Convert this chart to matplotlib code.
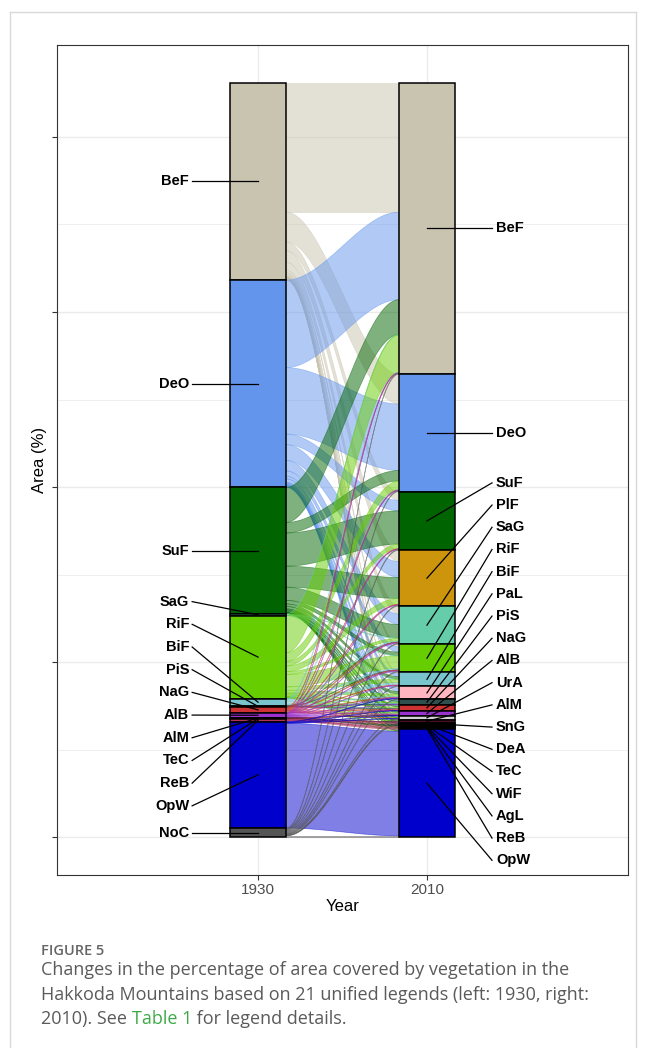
import numpy as np
import matplotlib.pyplot as plt
from matplotlib.patches import Rectangle, Polygon
from matplotlib.lines import Line2D

years = ["1930", "2010"]

# stacking order of the strata, top to bottom
classes_1930 = ["BeF", "DeO", "SuF", "SaG", "RiF", "BiF", "PiS", "NaG",
                "AlB", "AlM", "TeC", "ReB", "OpW", "NoC"]
classes_2010 = ["BeF", "DeO", "SuF", "PlF", "SaG", "RiF", "BiF", "PaL", "PiS", "NaG",
                "AlB", "UrA", "AlM", "SnG", "DeA", "TeC", "WiF", "AgL", "ReB", "OpW"]

# area (%) moving from one 1930 class to each 2010 class (columns = classes_2010)
from_BeF = [18.48, 4.25, 1.25, 1.63, 1.13, 0.38, 0.25, 0.25, 0.10, 0.05,
            0, 0.08, 0.05, 0.03, 0.03, 0.03, 0.05, 0.03, 0.03, 0.08]
from_DeO = [12.5, 9.5, 1.5, 2.25, 1.5, 0.75, 0.38, 0.5, 0.13, 0.13,
            0.08, 0.1, 0.05, 0.03, 0.03, 0.03, 0.03, 0.03, 0, 0.08]
from_SuF = [5.0, 1.5, 4.75, 3.0, 1.9, 0.5, 0.35, 0.35, 0.15, 0.15,
            0.15, 0.05, 0.08, 0.03, 0, 0.03, 0, 0.03, 0, 0.05]
from_SaG = [0.05, 0, 0, 0, 0.08, 0.05, 0.03, 0, 0.03, 0,
            0, 0, 0, 0, 0, 0, 0, 0, 0, 0]
from_RiF = [5.3, 1.23, 0.65, 0.83, 0.38, 1.78, 0.5, 0.35, 0.15, 0.18,
            0.18, 0.08, 0.1, 0, 0.03, 0, 0.03, 0, 0.03, 0.05]
from_BiF = [0.08, 0.05, 0, 0, 0.13, 0.2, 0.3, 0.1, 0.08, 0.05,
            0.03, 0, 0, 0, 0, 0, 0, 0, 0, 0]
from_PiS = [0, 0, 0, 0, 0.03, 0.03, 0, 0, 0.1, 0.03,
            0, 0, 0, 0, 0, 0, 0, 0, 0, 0]
from_NaG = [0.05, 0.05, 0.05, 0.08, 0.08, 0.1, 0.08, 0.08, 0, 0.15,
            0.05, 0.03, 0, 0, 0, 0, 0, 0, 0, 0]
from_AlB = [0.03, 0.05, 0.05, 0.05, 0.08, 0.08, 0.05, 0.08, 0.03, 0.05,
            0.15, 0, 0.03, 0, 0, 0, 0, 0, 0, 0]
from_AlM = [0, 0, 0, 0, 0, 0, 0, 0, 0, 0,
            0.03, 0, 0.05, 0, 0, 0, 0, 0, 0, 0]
from_TeC = [0, 0, 0, 0, 0, 0, 0, 0, 0, 0,
            0, 0, 0, 0, 0.03, 0.05, 0, 0, 0, 0]
from_ReB = [0, 0, 0, 0, 0, 0, 0, 0, 0, 0.03,
            0, 0, 0.08, 0.03, 0, 0, 0.03, 0.05, 0.15, 0]
from_OpW = [0, 0, 0, 0, 0, 0, 0, 0.08, 0, 0.05,
            0.05, 0.08, 0, 0, 0, 0, 0, 0, 0, 14.95]
from_NoC = [0.13, 0.13, 0.13, 0.13, 0.13, 0.13, 0.08, 0.08, 0, 0,
            0, 0.1, 0, 0.05, 0.03, 0, 0, 0, 0, 0.2]

palette = {
    "BeF": "#C9C4AF", "DeO": "#6495ED", "SuF": "#006400", "PlF": "#CD950C",
    "SaG": "#66CDAA", "RiF": "#66CD00", "BiF": "#7AC5CD", "PaL": "#FFB6C1",
    "PiS": "#2F4F4F", "NaG": "#CD3333", "AlB": "#9A32CD", "UrA": "#D3D3D3",
    "AlM": "#4A1020", "SnG": "#FFFFFF", "DeA": "#8B4513", "TeC": "#1A1A1A",
    "WiF": "#228B22", "AgL": "#FFD700", "ReB": "#B03060", "OpW": "#0000CD",
    "NoC": "#555555",
}

flows = np.array([from_BeF, from_DeO, from_SuF, from_SaG, from_RiF, from_BiF, from_PiS,
                  from_NaG, from_AlB, from_AlM, from_TeC, from_ReB, from_OpW, from_NoC])
tot_1930 = flows.sum(axis=1)
tot_2010 = flows.sum(axis=0)
total = tot_1930.sum()
top_1930 = total - np.concatenate([[0], np.cumsum(tot_1930)[:-1]])
top_2010 = total - np.concatenate([[0], np.cumsum(tot_2010)[:-1]])

fig = plt.figure(figsize=(6.46, 10.48), dpi=100)
ax = fig.add_axes([57 / 646, 1 - 875 / 1048, 571 / 646, 830 / 1048])

w = 1 / 3
xa, xb = 1 + w / 2, 2 - w / 2
t = np.linspace(0, 1, 80)
sig = 3 * t ** 2 - 2 * t ** 3
xs = xa + (xb - xa) * t

# flows, coloured by the 1930 class
used_l = np.zeros(len(classes_1930))
used_r = np.zeros(len(classes_2010))
for i, src in enumerate(classes_1930):
    for j, dst in enumerate(classes_2010):
        v = flows[i, j]
        if v <= 0:
            continue
        l_top = top_1930[i] - used_l[i]
        r_top = top_2010[j] - used_r[j]
        used_l[i] += v
        used_r[j] += v
        upper = l_top + (r_top - l_top) * sig
        lower = (l_top - v) + ((r_top - v) - (l_top - v)) * sig
        verts = np.vstack([np.column_stack([xs, upper]),
                           np.column_stack([xs[::-1], lower[::-1]])])
        ax.add_patch(Polygon(verts, closed=True, facecolor=palette[src], edgecolor=palette[src],
                             lw=0.5, alpha=0.5, zorder=1))

# strata
for x, names, tops, tots in [(1, classes_1930, top_1930, tot_1930),
                             (2, classes_2010, top_2010, tot_2010)]:
    for name, top, h in zip(names, tops, tots):
        ax.add_patch(Rectangle((x - w / 2, top - h), w, h, facecolor=palette[name],
                               edgecolor="black", lw=1.1, zorder=3))


def repel(targets, gap, lower):
    # spread labels (top to bottom) at least `gap` apart, as close as possible to targets
    s = [-y - k * gap for k, y in enumerate(targets)]
    blocks = []
    for v in s:
        blocks.append([v, 1])
        while len(blocks) > 1 and blocks[-2][0] / blocks[-2][1] > blocks[-1][0] / blocks[-1][1]:
            b = blocks.pop()
            blocks[-1][0] += b[0]
            blocks[-1][1] += b[1]
    fit = []
    for tot, c in blocks:
        fit += [tot / c] * c
    fit = np.minimum(fit, -lower - (len(targets) - 1) * gap)
    return [-(f + k * gap) for k, f in enumerate(fit)]


ylo, yhi = -0.05 * total, 1.05 * total
lab_font = dict(family=["Liberation Sans", "DejaVu Sans"], fontsize=10.5, fontweight="bold")

mid_1930 = top_1930 - tot_1930 / 2
lab_1930 = repel(mid_1930, 3.24, ylo + 2.1)
for name, m, ly in zip(classes_1930, mid_1930, lab_1930):
    ax.add_line(Line2D([0.61, 1], [ly, m], color="black", lw=0.9, zorder=4))
    ax.text(0.592, ly, name, ha="right", va="center", zorder=5, **lab_font)

mid_2010 = top_2010 - tot_2010 / 2
lab_2010 = repel(mid_2010, 3.17, ylo + 2.1)
for name, m, ly in zip(classes_2010, mid_2010, lab_2010):
    ax.add_line(Line2D([2, 2.385], [m, ly], color="black", lw=0.9, zorder=4))
    ax.text(2.408, ly, name, ha="left", va="center", zorder=5, **lab_font)

ax.set_xlim(-0.19, 3.19)
ax.set_ylim(ylo, yhi)
ax.set_xticks([1, 2])
ax.set_xticklabels(years)
ax.set_yticks([0, 25, 50, 75, 100])
ax.set_yticklabels([])
ax.set_yticks([12.5, 37.5, 62.5, 87.5], minor=True)
ax.tick_params(axis="both", which="major", length=3.5, width=0.8, color="#333333",
               labelsize=11, labelcolor="#4D4D4D", pad=2)
ax.tick_params(axis="y", which="minor", length=0)
ax.grid(True, which="major", color="#EBEBEB", lw=1.0, zorder=0)
ax.grid(True, which="minor", axis="y", color="#EBEBEB", lw=0.6, zorder=0)
ax.set_axisbelow(True)
for sp in ax.spines.values():
    sp.set_color("#333333")
    sp.set_linewidth(0.8)
for lbl in ax.get_xticklabels():
    lbl.set_family(["Liberation Sans", "DejaVu Sans"])
ax.set_xlabel("Year", fontsize=12, family=["Liberation Sans", "DejaVu Sans"], labelpad=2)
ax.set_ylabel("Area (%)", fontsize=12, family=["Liberation Sans", "DejaVu Sans"], labelpad=2)

# page frame and caption
for xy in [([10 / 646, 10 / 646], [0, 1 - 12 / 1048]),
           ([10 / 646, 636 / 646], [1 - 12 / 1048, 1 - 12 / 1048]),
           ([636 / 646, 636 / 646], [0, 1 - 12 / 1048])]:
    fig.add_artist(Line2D(xy[0], xy[1], color="#D9D9D9", lw=1.0, transform=fig.transFigure))

cap_font = dict(family=["Open Sans", "DejaVu Sans"], color="#5A5A5A")
fig.text(41 / 646, 1 - 951 / 1048, "FIGURE 5", fontsize=10.5, fontweight="semibold",
         va="center", ha="left", family=["Open Sans", "DejaVu Sans"], color="#666666")
fig.text(41 / 646, 1 - 970 / 1048, "Changes in the percentage of area covered by vegetation in the",
         fontsize=13, va="center", ha="left", **cap_font)
fig.text(41 / 646, 1 - 995 / 1048, "Hakkoda Mountains based on 21 unified legends (left: 1930, right:",
         fontsize=13, va="center", ha="left", **cap_font)
t1 = fig.text(41 / 646, 1 - 1019 / 1048, "2010). See ", fontsize=13, va="center", ha="left", **cap_font)
t2 = ax.annotate("Table 1", xy=(1, 0), xycoords=t1, va="bottom", ha="left", fontsize=13,
                 family=["Open Sans", "DejaVu Sans"], color="#3DAA47", annotation_clip=False)
ax.annotate(" for legend details.", xy=(1, 0), xycoords=t2, va="bottom", ha="left", fontsize=13,
            annotation_clip=False, **cap_font)

fig.savefig("out.png", dpi=100)
